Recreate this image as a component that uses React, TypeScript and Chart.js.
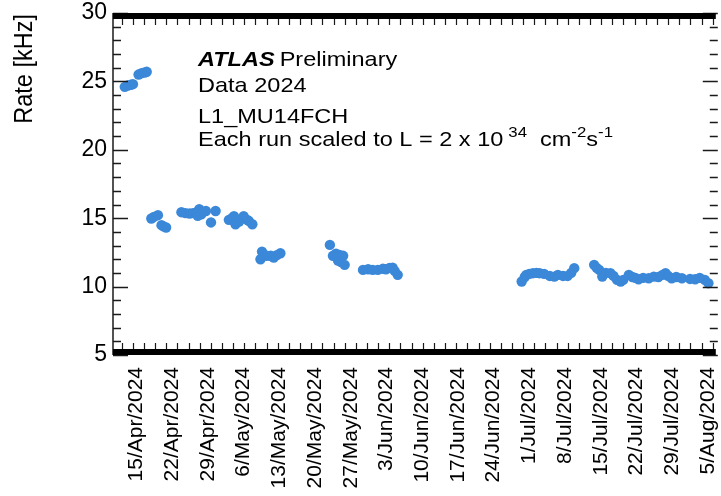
import React, { useEffect, useRef } from 'react';
import { Chart, registerables } from 'chart.js';

Chart.register(...registerables);

// ---- data (x = day of year 2024, y = rate in kHz) ----
const TICK_DAYS = [106, 113, 120, 127, 134, 141, 148, 155, 162, 169, 176, 183, 190, 197, 204, 211, 218];
const TICK_LABELS = [
  '15/Apr/2024', '22/Apr/2024', '29/Apr/2024', '6/May/2024', '13/May/2024', '20/May/2024',
  '27/May/2024', '3/Jun/2024', '10/Jun/2024', '17/Jun/2024', '24/Jun/2024', '1/Jul/2024',
  '8/Jul/2024', '15/Jul/2024', '22/Jul/2024', '29/Jul/2024', '5/Aug/2024',
];
const Y_TICKS = [5, 10, 15, 20, 25, 30];

const RUN_DAY = [
  103.7, 104.3, 104.9, 105.3,
  106.4, 107.0, 107.6, 108.0,
  108.9, 109.4, 110.2, 110.9, 111.3, 111.8,
  114.8, 115.6, 116.4, 117.1, 117.7, 118.0, 118.3, 118.7, 119.6, 120.6, 121.5,
  124.1, 124.7, 125.1, 125.4, 126.1, 127.0, 127.7, 128.0, 128.7,
  130.3, 130.6, 130.9, 131.5, 132.3, 132.9, 133.5, 134.2,
  143.9, 144.5, 145.1, 145.5, 145.8, 146.1, 146.5, 146.8,
  150.4, 151.4, 152.3, 153.3, 154.3, 154.9, 155.6, 156.2, 156.6, 157.2,
  181.5, 182.1, 182.4, 183.0, 183.7, 184.4, 185.0, 185.9, 187.0, 187.9, 188.6, 189.6, 190.5, 191.2, 191.8,
  195.7, 196.2, 196.7, 197.3, 198.0, 198.9, 199.5, 200.2, 200.9, 201.4,
  202.5, 203.2, 203.8, 204.4, 205.3, 206.4, 207.4, 208.3, 209.1, 209.7,
  210.2, 210.9, 211.8, 212.9, 214.5, 215.5, 216.4, 217.4, 218.1,
];
const RATE = [
  24.6, 24.7, 24.75, 24.8,
  25.5, 25.6, 25.65, 25.7,
  14.98, 15.1, 15.22, 14.49, 14.4, 14.32,
  15.44, 15.37, 15.34, 15.37, 15.42, 15.17, 15.66, 15.29, 15.53, 14.69, 15.53,
  14.88, 15.0, 15.15, 14.55, 14.76, 15.15, 14.88, 14.8, 14.56,
  12.0, 12.56, 12.3, 12.25, 12.25, 12.12, 12.3, 12.44,
  13.05, 12.25, 12.4, 11.9, 12.32, 11.8, 12.25, 11.59,
  11.22, 11.27, 11.22, 11.22, 11.3, 11.27, 11.37, 11.39, 11.15, 10.86,
  10.37, 10.7, 10.86, 10.93, 10.98, 11.0, 10.98, 10.93, 10.78, 10.73, 10.86, 10.78, 10.78, 11.0, 11.35,
  11.59, 11.37, 11.22, 10.73, 11.0, 10.98, 10.78, 10.49, 10.37, 10.49,
  10.86, 10.7, 10.64, 10.54, 10.64, 10.61, 10.73, 10.7, 10.86, 10.98,
  10.78, 10.61, 10.7, 10.61, 10.56, 10.54, 10.64, 10.49, 10.25,
];

const X_MIN = 101.39;
const X_MAX = 219.55;
const Y_MIN = 5;
const Y_MAX = 30;
const X_MINOR_START = 103.085;
const X_MINOR_STEP = 2.186;

const FONT = '"Liberation Sans", Arial, Helvetica, sans-serif';
const POINT_COLOR = '#3b88d9';
const SX = 1.12;

function stretchText(ctx: CanvasRenderingContext2D, text: string, x: number, y: number, font: string): number {
  ctx.save();
  ctx.font = font;
  ctx.translate(x, y);
  ctx.scale(SX, 1);
  ctx.fillText(text, 0, 0);
  const w = ctx.measureText(text).width * SX;
  ctx.restore();
  return w;
}

const framePlugin = {
  id: 'atlasFrame',
  afterDraw(chart: any) {
    const { ctx, chartArea: a, scales } = chart;
    const x = scales.x;
    const y = scales.y;
    const rightAxis = a.right + 2;
    ctx.save();
    ctx.strokeStyle = '#1a1a1a';
    ctx.lineWidth = 1.5;
    // left axis
    ctx.beginPath();
    ctx.moveTo(a.left, a.top);
    ctx.lineTo(a.left, a.bottom);
    ctx.stroke();
    // y ticks (left + right)
    for (let v = Y_MIN; v <= Y_MAX; v++) {
      const py = Math.round(y.getPixelForValue(v)) + 0.5;
      const len = v % 5 === 0 ? 15 : 8;
      ctx.beginPath();
      ctx.moveTo(a.left, py);
      ctx.lineTo(a.left + len, py);
      ctx.moveTo(rightAxis, py);
      ctx.lineTo(rightAxis - len, py);
      ctx.stroke();
    }
    // x minor ticks
    ctx.lineWidth = 1.2;
    for (let d = X_MINOR_START; d < X_MAX; d += X_MINOR_STEP) {
      const px = Math.round(x.getPixelForValue(d)) + 0.5;
      ctx.beginPath();
      ctx.moveTo(px, a.bottom - 6);
      ctx.lineTo(px, a.bottom - 12);
      ctx.moveTo(px, a.top + 6);
      ctx.lineTo(px, a.top + 12);
      ctx.stroke();
    }
    // thick top / bottom bars
    ctx.fillStyle = '#000';
    ctx.fillRect(a.left, a.top, a.right - a.left, 6);
    ctx.fillRect(a.left, a.bottom - 6, a.right - a.left, 6);

    // y axis title
    ctx.fillStyle = '#000';
    ctx.save();
    ctx.translate(32, a.top + 1);
    ctx.rotate(-Math.PI / 2);
    ctx.scale(1, SX);
    ctx.font = `23.5px ${FONT}`;
    ctx.textAlign = 'right';
    ctx.textBaseline = 'alphabetic';
    ctx.fillText('Rate [kHz]', 0, 0);
    ctx.restore();

    // ATLAS label block
    ctx.textAlign = 'left';
    ctx.textBaseline = 'alphabetic';
    const tx = 198;
    const big = `21px ${FONT}`;
    const small = `15px ${FONT}`;
    const wA = stretchText(ctx, 'ATLAS', tx, 66, `italic bold 21px ${FONT}`);
    stretchText(ctx, 'Preliminary', tx + wA + 5, 66, big);
    stretchText(ctx, 'Data 2024', tx, 92, big);
    stretchText(ctx, 'L1_MU14FCH', tx, 123, big);
    let cx = tx;
    cx += stretchText(ctx, 'Each run scaled to L = 2 x 10', cx, 146, big);
    cx += 5;
    cx += stretchText(ctx, '34', cx, 137, small);
    cx += 13;
    cx += stretchText(ctx, 'cm', cx, 146, big);
    cx += stretchText(ctx, '-2', cx, 137, small);
    cx += stretchText(ctx, 's', cx, 146, big);
    stretchText(ctx, '-1', cx, 137, small);
    ctx.restore();
  },
};

export default function App() {
  const ref = useRef<HTMLCanvasElement | null>(null);
  useEffect(() => {
    if (!ref.current) return;
    const chart = new Chart(ref.current, {
      type: 'scatter',
      data: {
        datasets: [
          {
            data: RUN_DAY.map((d, i) => ({ x: d, y: RATE[i] })),
            backgroundColor: POINT_COLOR,
            borderWidth: 0,
            pointRadius: 5.2,
            pointHoverRadius: 5.2,
          },
        ],
      },
      options: {
        animation: false,
        responsive: false,
        events: [],
        layout: { padding: { top: 13, right: 0, left: 0, bottom: 0 } },
        plugins: { legend: { display: false }, tooltip: { enabled: false } },
        scales: {
          x: {
            type: 'linear',
            min: X_MIN,
            max: X_MAX,
            grid: { display: false, drawTicks: false },
            border: { display: false },
            afterBuildTicks: (s: any) => {
              s.ticks = TICK_DAYS.map((v) => ({ value: v }));
            },
            afterFit: (s: any) => {
              s.height = 141;
              s.paddingLeft = 0;
              s.paddingRight = 0;
            },
            ticks: {
              autoSkip: false,
              minRotation: 90,
              maxRotation: 90,
              padding: 12,
              color: '#000',
              font: { family: FONT, size: 21 },
              callback: (_v: any, i: number) => TICK_LABELS[i],
            },
          },
          y: {
            type: 'linear',
            min: Y_MIN,
            max: Y_MAX,
            grid: { display: false, drawTicks: false },
            border: { display: false },
            afterBuildTicks: (s: any) => {
              s.ticks = Y_TICKS.map((v) => ({ value: v }));
            },
            afterFit: (s: any) => {
              s.width = 113;
              s.paddingTop = 0;
              s.paddingBottom = 0;
            },
            ticks: {
              padding: 6,
              color: '#000',
              font: { family: FONT, size: 23 },
            },
          },
        },
      } as any,
      plugins: [framePlugin],
    });
    return () => chart.destroy();
  }, []);
  return (
    <canvas
      ref={ref}
      width={721}
      height={496}
      style={{ position: 'absolute', left: 0, top: 0, width: 721, height: 496 }}
    />
  );
}
